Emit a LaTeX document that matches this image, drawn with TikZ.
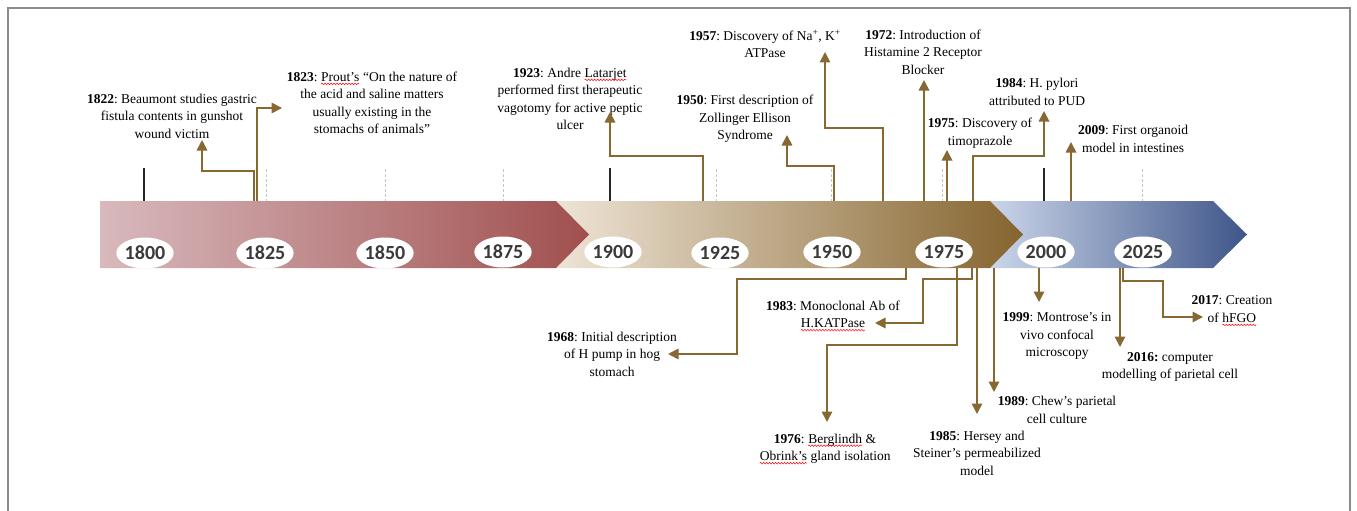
\documentclass[tikz,border=0pt]{standalone}
\usepackage{fontspec}
\setmainfont{Liberation Serif}
\newfontfamily\yearfamily{Carlito}
\usetikzlibrary{arrows.meta,shapes.geometric,decorations.pathmorphing}
\frenchspacing

\definecolor{arrowbrown}{RGB}{135,103,50}
\definecolor{yeargray}{RGB}{58,58,58}
\definecolor{frameg}{RGB}{140,140,140}

% red spell-check squiggle
\newcommand\spell[1]{\tikz[baseline=(sw.base)]{\node[inner sep=0pt,outer sep=0pt,anchor=base,text=black] (sw) {#1};
    \draw[red, line width=0.5pt, decorate, decoration={snake, amplitude=0.8pt, segment length=3pt}]
        ([yshift=-2.5pt]sw.base west) -- ([yshift=-2.5pt]sw.base east);}}

\tikzset{
    x=1pt,y=-1pt,
    evt/.style={draw=arrowbrown, line width=1.7pt, -{Triangle[length=10.5pt,width=10.5pt]}},
    note/.style={align=center, inner sep=0pt, font=\fontsize{13.5}{17.5}\selectfont},
    yearlbl/.style={ellipse, fill=white, minimum width=52pt, minimum height=31pt, inner sep=0pt,
        text=yeargray, font=\yearfamily\bfseries\fontsize{20}{20}\selectfont},
    majortick/.style={draw=black!85, line width=2pt},
    minortick/.style={draw=gray!45, line width=0.8pt, dash pattern=on 3pt off 2pt}
}

\begin{document}
\begin{tikzpicture}
    \useasboundingbox (0,0) rectangle (1357,511);
    \draw[frameg, line width=1.2pt] (8,511) -- (8,8) -- (1350,8) -- (1350,511);

    % ticks above the bar
    \foreach \x in {144,610,1044} \draw[majortick] (\x,168) -- (\x,201);
    \foreach \x in {266,385,503,716,831,942,1142} \draw[minortick] (\x,169) -- (\x,201);

    % timeline bar, three eras
    \shade[left color={rgb,255:red,203;green,214;blue,234}, right color={rgb,255:red,62;green,85;blue,137}]
        (990,201) -- (1213,201) -- (1247,234.5) -- (1213,268) -- (990,268) -- cycle;
    \shade[left color={rgb,255:red,238;green,228;blue,214}, right color={rgb,255:red,133;green,100;blue,46}]
        (556,201) -- (990,201) -- (1023,234.5) -- (990,268) -- (556,268) -- cycle;
    \shade[left color={rgb,255:red,216;green,185;blue,189}, right color={rgb,255:red,160;green,79;blue,78}]
        (100,201) -- (556,201) -- (589,234.5) -- (556,268) -- (100,268) -- cycle;

    \node[yearlbl] (y1800) at (145,253) {1800};
    \node[yearlbl] (y1825) at (265,253) {1825};
    \node[yearlbl] (y1850) at (385,253) {1850};
    \node[yearlbl] (y1875) at (503,252) {1875};
    \node[yearlbl] (y1900) at (613,252) {1900};
    \node[yearlbl] (y1925) at (720,253) {1925};
    \node[yearlbl] (y1950) at (832,252) {1950};
    \node[yearlbl] (y1975) at (944,252) {1975};
    \node[yearlbl] (y2000) at (1046,252) {2000};
    \node[yearlbl] (y2025) at (1143,252) {2025};

    % events above
    \node[note] (n1822) at (172,116) {\textbf{1822}: Beaumont studies gastric\\fistula contents in gunshot\\wound victim};
    \node[note] (n1823) at (372,103) {\textbf{1823}: \spell{Prout’s} “On the nature of\\the acid and saline matters\\usually existing in the\\stomachs of animals”};
    \node[note] (n1923) at (570,99) {\textbf{1923}: Andre \spell{Latarjet}\\performed first therapeutic\\vagotomy for active peptic\\ulcer};
    \node[note] (n1950) at (745,119) {\textbf{1950}: First description of\\Zollinger Ellison\\Syndrome};
    \node[note] (n1957) at (765,44) {\textbf{1957}: Discovery of Na\textsuperscript{+}, K\textsuperscript{+}\\ATPase};
    \node[note] (n1972) at (923,52) {\textbf{1972}: Introduction of\\Histamine 2 Receptor\\Blocker};
    \node[note] (n1975) at (980,133) {\textbf{1975}: Discovery of\\timoprazole};
    \node[note] (n1984) at (1037,92) {\textbf{1984}: H. pylori\\attributed to PUD};
    \node[note] (n2009) at (1133,139) {\textbf{2009}: First organoid\\model in intestines};

    % events below
    \node[note] (n1968) at (612,354) {\textbf{1968}: Initial description\\of H pump in hog\\stomach};
    \node[note] (n1983) at (833,316) {\textbf{1983}: Monoclonal Ab of\\\spell{H.KATPase}};
    \node[note] (n1976) at (825,449) {\textbf{1976}: \spell{Berglindh} \&\\\spell{Obrink’s} gland isolation};
    \node[note] (n1985) at (977,453) {\textbf{1985}: Hersey and\\Steiner’s permeabilized\\model};
    \node[note] (n1989) at (1057,410) {\textbf{1989}: Chew’s parietal\\cell culture};
    \node[note] (n1999) at (1057,336) {\textbf{1999}: Montrose’s in\\vivo confocal\\microscopy};
    \node[note] (n2016) at (1170,367) {\textbf{2016:} computer\\modelling of parietal cell};
    \node[note] (n2017) at (1232,311) {\textbf{2017}: Creation\\of \spell{hFGO}};

    % start points on the bar and arrow tips
    \coordinate (s1822) at (254,201);  \coordinate (t1822) at (202,140);
    \coordinate (s1823) at (257,201);  \coordinate (t1823) at (282,108);
    \coordinate (s1923) at (703,201);  \coordinate (t1923) at (610,112);
    \coordinate (s1950) at (834,201);  \coordinate (t1950) at (787,135);
    \coordinate (s1957) at (883,201);  \coordinate (t1957) at (825,52);
    \coordinate (s1972) at (924,201);  \coordinate (t1972) at (924,80);
    \coordinate (s1975) at (947,201);  \coordinate (t1975) at (947,150);
    \coordinate (s1984) at (973,201);  \coordinate (t1984) at (1044,111);
    \coordinate (s2009) at (1071,201); \coordinate (t2009) at (1071,142);
    \coordinate (s1968) at (906,268);  \coordinate (t1968) at (668,354);
    \coordinate (s1983) at (972,268);  \coordinate (t1983) at (875,323);
    \coordinate (s1976) at (957,268);  \coordinate (t1976) at (827,422);
    \coordinate (s1985) at (977,268);  \coordinate (t1985) at (977,414);
    \coordinate (s1989) at (994,268);  \coordinate (t1989) at (994,392);
    \coordinate (s1999) at (1039,268); \coordinate (t1999) at (1039,302);
    \coordinate (s2016) at (1120,268); \coordinate (t2016) at (1120,347);
    \coordinate (s2017) at (1123,268); \coordinate (t2017) at (1203,317);

    \draw[evt] (s1822) -- ++(0,-30) -| (t1822);
    \draw[evt] (s1823) |- (t1823);
    \draw[evt] (s1923) -- ++(0,-45) -| (t1923);
    \draw[evt] (s1950) -- ++(0,-35) -| (t1950);
    \draw[evt] (s1957) -- ++(0,-73) -| (t1957);
    \draw[evt] (s1972) -- (t1972);
    \draw[evt] (s1975) -- (t1975);
    \draw[evt] (s1984) -- ++(0,-45) -| (t1984);
    \draw[evt] (s2009) -- (t2009);

    \draw[evt] (s1968) -- ++(0,11) -| (737,354) -- (t1968);
    \draw[evt] (s1983) -- ++(0,11) -| (923,323) -- (t1983);
    \draw[evt] (s1976) -- ++(0,77) -| (t1976);
    \draw[evt] (s1985) -- (t1985);
    \draw[evt] (s1989) -- (t1989);
    \draw[evt] (s1999) -- (t1999);
    \draw[evt] (s2016) -- (t2016);
    \draw[evt] (s2017) -- ++(0,13) -| (1163,317) -- (t2017);
\end{tikzpicture}
\end{document}
